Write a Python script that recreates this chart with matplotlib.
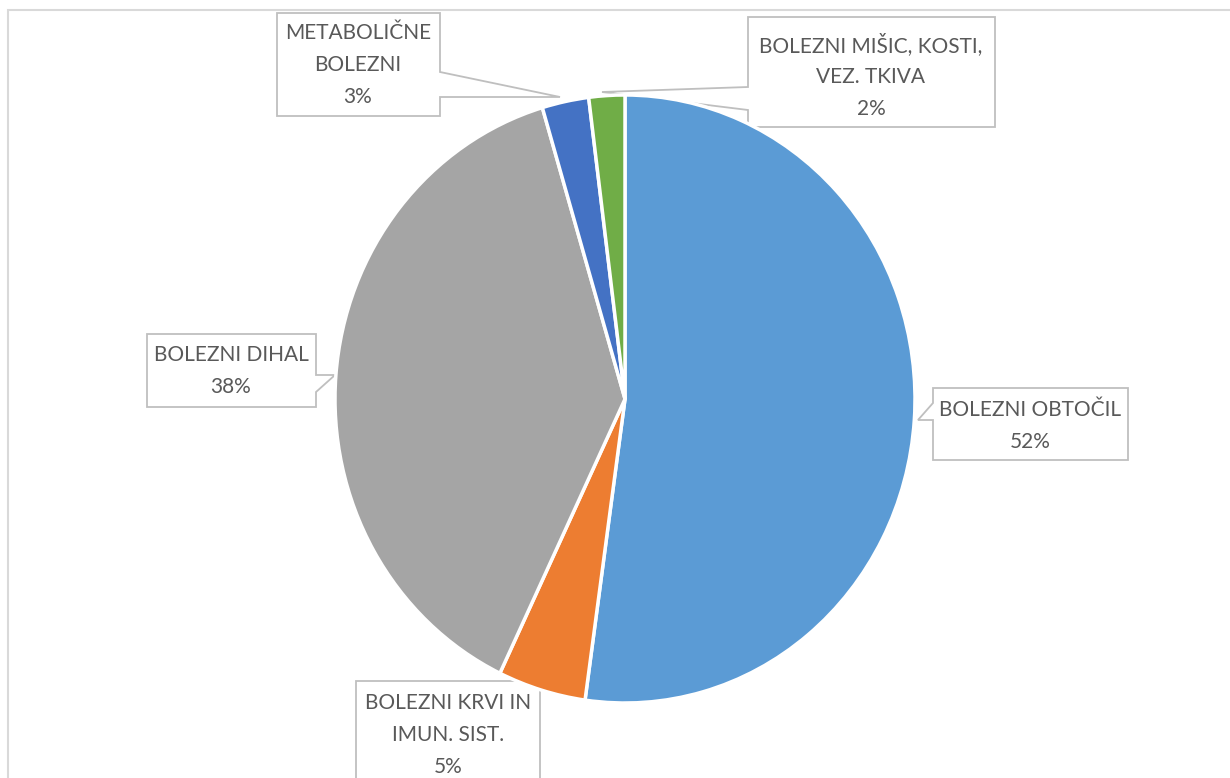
import matplotlib.pyplot as plt
from matplotlib.patches import Polygon

W, H = 1230, 778

categories = ["BOLEZNI OBTOČIL", "BOLEZNI KRVI IN IMUN. SIST.", "BOLEZNI DIHAL",
              "METABOLIČNE BOLEZNI", "BOLEZNI MIŠIC, KOSTI, VEZ. TKIVA"]
shares = [52.2, 4.9, 38.3, 2.6, 2.0]
label_lines = [["BOLEZNI OBTOČIL"],
               ["BOLEZNI KRVI IN", "IMUN. SIST."],
               ["BOLEZNI DIHAL"],
               ["METABOLIČNE", "BOLEZNI"],
               ["BOLEZNI MIŠIC, KOSTI,", "VEZ. TKIVA"]]
colors = ["#5B9BD5", "#ED7D31", "#A5A5A5", "#4472C4", "#70AD47"]

# callout outlines in pixels (origin top-left), and the text centre of each
callouts = [
    [(933, 388), (1128, 388), (1128, 460), (933, 460), (933, 420), (918, 420), (933, 403)],
    [(356, 681), (540, 681), (540, 800), (356, 800)],
    [(147, 334), (316, 334), (316, 375), (335, 375), (316, 392), (316, 407), (147, 407)],
    [(277, 13), (440, 13), (440, 72), (560, 97), (440, 97), (440, 116), (277, 116)],
    [(748, 17), (995, 17), (995, 127), (748, 127), (748, 110), (602, 92), (748, 87)],
]
text_pos = [(1030, 410), (448, 703), (231, 355), (358, 33), (871, 45)]
line_gap = 32


def fig_xy(x, y):
    return x / W, 1 - y / H


fig = plt.figure(figsize=(W / 100, H / 100), dpi=100)

# chart area border
fig.patches.append(Polygon([fig_xy(8, 10), fig_xy(1300, 10), fig_xy(1300, 900), fig_xy(8, 900)],
                           closed=True, transform=fig.transFigure, facecolor="white",
                           edgecolor="#D9D9D9", linewidth=1.5, zorder=-3))

for pts in callouts:
    fig.patches.append(Polygon([fig_xy(x, y) for x, y in pts], closed=True,
                               transform=fig.transFigure, facecolor="white",
                               edgecolor="#BFBFBF", linewidth=1.3, zorder=-1))

cx, cy, rx, ry = 625, 399, 290, 304
ax = fig.add_axes([(cx - rx) / W, (H - cy - ry) / H, 2 * rx / W, 2 * ry / H])
ax.patch.set_visible(False)
ax.pie(shares, colors=colors, startangle=90, counterclock=False,
       wedgeprops=dict(edgecolor="white", linewidth=2.5))
ax.set_aspect("auto")
ax.set_xlim(-1, 1)
ax.set_ylim(-1, 1)

for lines, share, (tx, ty) in zip(label_lines, shares, text_pos):
    lines = lines + ["%d%%" % int(share + 0.5)]
    for i, line in enumerate(lines):
        x, y = fig_xy(tx, ty + i * line_gap)
        fig.text(x, y, line, ha="center", va="center", fontsize=15,
                 family=["Lato", "DejaVu Sans"], color="#595959")

fig.savefig("out.png", dpi=100)
